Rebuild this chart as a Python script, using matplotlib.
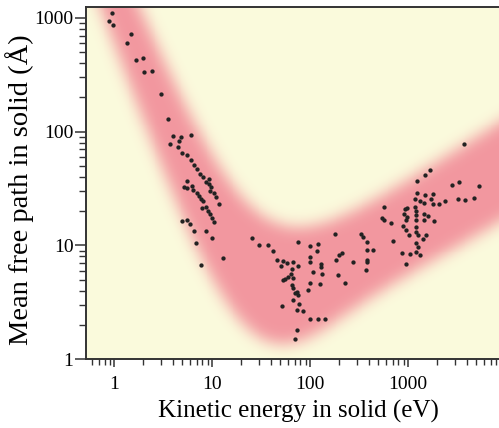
import numpy as np
import matplotlib
matplotlib.use("Agg")
import matplotlib.pyplot as plt
from matplotlib import ticker
from matplotlib.colors import LinearSegmentedColormap

plt.rcParams["font.family"] = ["Liberation Serif", "DejaVu Serif"]

# measured points: kinetic energy (eV) and mean free path (Angstrom)
energy_low = [0.954, 0.879, 0.981, 1.48, 1.37, 1.67, 1.99, 2.01, 2.46, 3.04, 3.52, 3.97,
              4.88, 6.12, 4.64, 3.75, 4.50, 5.00, 5.52, 6.11, 6.55, 7.03, 7.54, 8.15,
              9.25, 8.62, 9.32, 9.84, 9.54, 10.5, 11.1, 11.8, 5.60, 5.14, 5.60, 6.25,
              6.45, 6.98, 7.32, 7.67, 8.15, 7.85, 8.75, 9.04, 9.54, 10.0, 10.4, 4.94,
              5.52, 6.00, 6.51, 8.62, 9.93, 6.92, 12.9, 7.67]
mfp_low = [1098, 935, 866, 729, 599, 425, 447, 332, 343, 215, 128, 90.9,
           90.5, 93.4, 82.7, 77.8, 72.5, 64.4, 61.9, 55.9, 50.8, 46.6, 42.1, 40.1,
           38.5, 36.0, 34.4, 32.8, 30.0, 29.0, 26.6, 22.9, 36.8, 32.8, 32.1, 33.4,
           30.6, 29.0, 27.3, 25.7, 24.5, 21.4, 21.6, 20.2, 19.0, 17.5, 15.9, 16.3,
           16.8, 15.3, 13.4, 13.4, 11.5, 10.4, 7.69, 6.71]

energy_mid = [25.4, 30.2, 37.0, 41.6, 75.9, 100, 121, 117, 180, 46.0, 53.4, 50.2,
              57.8, 67.5, 75.9, 66.0, 63.5, 60.1, 55.6, 53.4, 67.5, 65.1, 66.6, 73.2,
              75.9, 70.3, 67.5, 77.8, 74.2, 84.2, 51.4, 100, 100, 130, 130, 132,
              108, 100, 96.1, 126, 100, 120, 143, 74.2, 70.3, 184, 199, 211,
              192, 228, 273, 329, 350, 379, 379, 436, 379, 379, 373, 573,
              539, 569, 666, 698]
mfp_mid = [11.7, 10.1, 10.1, 8.97, 10.6, 9.86, 10.3, 8.97, 12.5, 7.42, 7.32, 6.62,
           7.03, 7.09, 6.62, 6.15, 5.56, 5.30, 5.02, 4.95, 5.13, 4.48, 4.19, 3.91,
           3.66, 3.78, 3.30, 3.03, 2.70, 2.66, 2.92, 7.94, 7.09, 6.85, 6.48, 5.59,
           5.79, 4.63, 4.04, 4.57, 2.24, 2.25, 2.24, 1.80, 1.50, 7.42, 8.22, 8.51,
           5.48, 4.66, 7.09, 12.5, 11.9, 10.6, 9.09, 9.09, 7.42, 7.09, 6.07, 21.9,
           17.3, 16.8, 15.6, 10.9]

energy_high = [3728, 1689, 1501, 1244, 2812, 3338, 5303, 1236, 1491, 1812, 1179, 1316,
               1456, 1717, 1812, 2072, 2368, 3261, 3790, 4748, 932, 977, 1179, 1215,
               910, 977, 1198, 1456, 1600, 947, 1198, 1467, 1842, 889, 947, 1198,
               1198, 1024, 1265, 1516, 1433, 1198, 1265, 875, 1041, 1207, 1326, 961]
mfp_high = [77.8, 45.7, 41.3, 37.0, 34.1, 36.0, 33.4, 28.7, 27.7, 28.3, 25.4, 24.5,
            23.4, 25.5, 22.9, 22.9, 24.5, 25.5, 25.2, 26.1, 20.7, 21.3, 21.6, 20.2,
            18.7, 17.8, 18.5, 18.7, 18.1, 16.7, 16.7, 16.7, 16.4, 14.8, 13.6, 14.6,
            13.2, 12.3, 12.3, 12.3, 11.4, 10.4, 9.72, 8.61, 8.39, 8.78, 8.22, 6.85]


# universal-curve form a/E^p + b*E^q, joined smoothly with exponent k
def universal(logE, a, p, b, qq, k):
    E = 10 ** logE
    return np.log10(((a * E ** -p) ** k + (b * E ** qq) ** k) ** (1 / k))


def blur(a, s):
    r = int(3.5 * s)
    t = np.arange(-r, r + 1)
    g = np.exp(-0.5 * (t / s) ** 2)
    g /= g.sum()
    a = np.pad(a, r, mode="edge")
    a = np.apply_along_axis(lambda v: np.convolve(v, g, mode="valid"), 0, a)
    a = np.apply_along_axis(lambda v: np.convolve(v, g, mode="valid"), 1, a)
    return a


lx = np.linspace(-0.45, 4.15, 920)
ly = np.linspace(-0.2, 3.3, 800)
LX, LY = np.meshgrid(lx, ly)
# lower-left edge and upper-right edge of the band
lower = universal(LX, 1700.0, 2.3, 0.5, 0.5, 0.55) \
    - (0.46 + 0.11 * np.exp(-((LX - 1.8) / 0.6) ** 2))
upper = universal(LX, 3900.0, 2.0, 0.823, 0.55, 0.5)
mask = ((LY > lower) & (LY < upper)).astype(float)
band = blur(mask, 15)

cmap = LinearSegmentedColormap.from_list("band", ["#FAFADC", "#F2979F"])

fig = plt.figure(figsize=(4.99, 4.28), dpi=100)
ax = fig.add_axes([86 / 499, 69 / 428, 419 / 499, 352 / 428])
ax.set_xscale("log")
ax.set_yscale("log")
ax.pcolormesh(10 ** lx, 10 ** ly, band, cmap=cmap, vmin=0, vmax=1,
              shading="auto", rasterized=True)

for e, m in [(energy_low, mfp_low), (energy_mid, mfp_mid), (energy_high, mfp_high)]:
    ax.plot(e, m, "o", color="#222222", ms=3.1, mew=0, zorder=3)

ax.set_xlim(10 ** -0.2857, 10 ** 3.99)
ax.set_ylim(1, 10 ** 3.096)

fmt = ticker.FuncFormatter(lambda v, _: f"{v:g}")
ax.xaxis.set_major_locator(ticker.FixedLocator([1, 10, 100, 1000]))
ax.yaxis.set_major_locator(ticker.FixedLocator([1, 10, 100, 1000]))
ax.xaxis.set_major_formatter(fmt)
ax.yaxis.set_major_formatter(fmt)
ax.xaxis.set_minor_locator(ticker.LogLocator(base=10, subs=np.arange(2, 10)))
ax.yaxis.set_minor_locator(ticker.LogLocator(base=10, subs=np.arange(2, 10)))
ax.xaxis.set_minor_formatter(ticker.NullFormatter())
ax.yaxis.set_minor_formatter(ticker.NullFormatter())

ax.tick_params(axis="y", which="major", direction="out", length=8, width=1.1,
               labelsize=14, pad=1, color="#333333")
ax.tick_params(axis="y", which="minor", direction="out", length=5, width=1.0,
               color="#333333")
ax.tick_params(axis="x", which="major", direction="out", length=6, width=1.1,
               labelsize=14, pad=6, color="#333333")
ax.tick_params(axis="x", which="minor", direction="out", length=4, width=1.0,
               color="#333333")

for s in ax.spines.values():
    s.set_color("#333333")
    s.set_linewidth(1.4)

fig.text(298 / 499, 1 - 411 / 428, "Kinetic energy in solid (eV)", fontsize=18,
         ha="center", va="center")
fig.text(20 / 499, 1 - 190 / 428, "Mean free path in solid (Å)", fontsize=20.5,
         rotation=90, ha="center", va="center")

fig.savefig("out.png", dpi=100)
